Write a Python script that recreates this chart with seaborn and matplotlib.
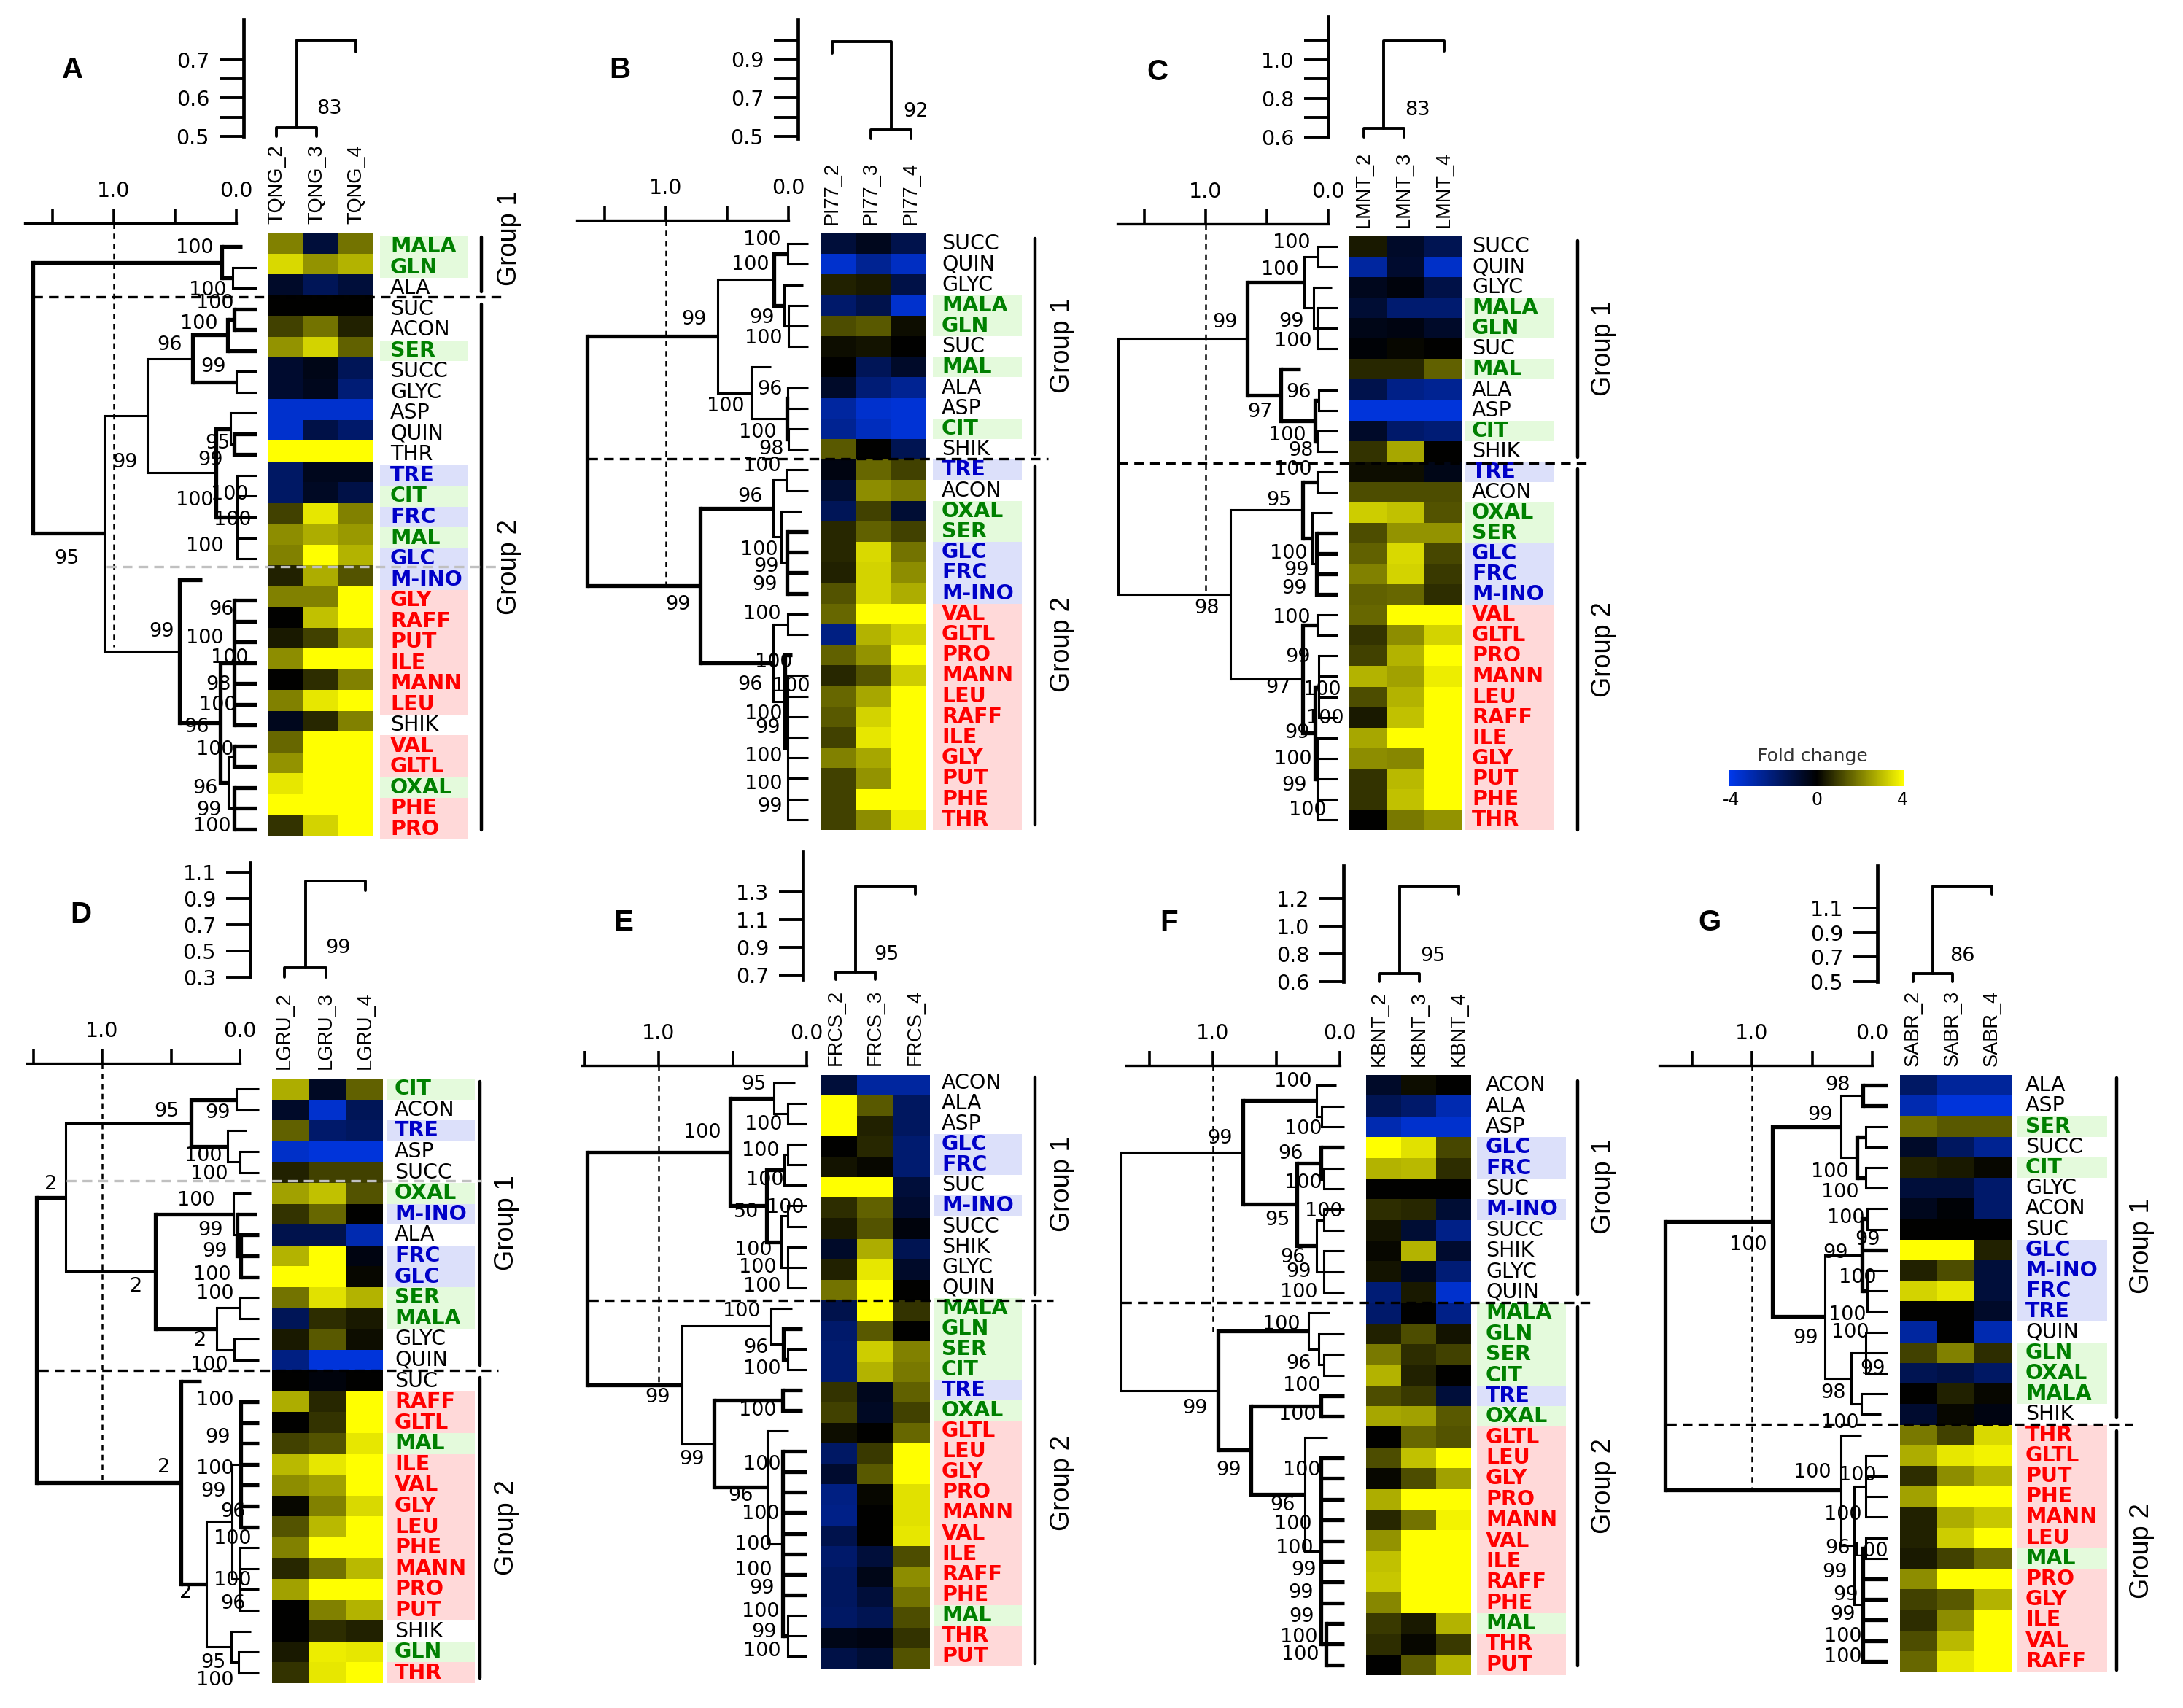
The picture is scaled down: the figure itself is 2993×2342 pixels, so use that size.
import matplotlib
matplotlib.use("Agg")
import matplotlib.pyplot as plt
from matplotlib.colors import LinearSegmentedColormap
import pandas as pd
import seaborn as sns

sns.set_theme(style="white")
plt.rcParams['font.family'] = ['DejaVu Sans']
plt.rcParams.update({'text.color': 'black', 'xtick.color': 'black', 'ytick.color': 'black', 'axes.labelcolor': 'black'})

W, H = 2993, 2342
DPI = 100
PT = 72.0 / DPI  # one pixel in points

# metabolite classes (label colour / background)
GREEN = ['MALA', 'GLN', 'SER', 'MAL', 'CIT', 'OXAL']
BLUE = ['TRE', 'FRC', 'GLC', 'M-INO']
RED = ['GLY', 'RAFF', 'PUT', 'ILE', 'MANN', 'LEU', 'VAL', 'GLTL', 'PHE', 'PRO', 'THR']

##################################################
# A
A_name = 'TQNG'
A_rows = ['MALA', 'GLN', 'ALA', 'SUC', 'ACON', 'SER', 'SUCC', 'GLYC', 'ASP', 'QUIN', 'THR', 'TRE', 'CIT', 'FRC', 'MAL',
          'GLC', 'M-INO', 'GLY', 'RAFF', 'PUT', 'ILE', 'MANN', 'LEU', 'SHIK', 'VAL', 'GLTL', 'OXAL', 'PHE', 'PRO']
A_col2 = [2, 3.4, -0.7, 0, 1, 2.3, -0.8, -0.8, -3.5, -3.5, 4, -1.7, -1.7, 1, 2.2, 2, 0.5, 2, 0, 0.4, 2.2, 0, 2, -0.5, 1.6, 2.3, 3.6, 4, 0.8]
A_col3 = [-1, 2.3, -1.5, 0, 1.8, 3.3, -0.4, -0.5, -3.5, -1.2, 4, -0.5, -0.6, 3.6, 2.7, 4, 2.7, 2, 3, 1, 4, 0.7, 3.6, 0.6, 4, 4, 4, 4, 3.3]
A_col4 = [1.8, 2.8, -1, 0, 0.5, 1.5, -1.5, -2, -3.5, -1.8, 4, -0.5, -1.2, 2, 2.4, 2.8, 1.3, 4, 4, 2.5, 4, 2, 4, 2, 4, 4, 4, 4, 4]
A_tree = (1.66,
          (.12, [0, -.05], (.03, 1, 2)),
          (1.08,
           (.727,
            (.357, (.07, (.015, 3, 4), 5), (0.0, 6, 7)),
            (.169, (.05, 8, (.015, 9, 10)), (-.008, 11, 12, 13, 14, 15))),
           (.462, [16, .282],
            (.13, (.015, 17, 18, 19, 20, 21, 22, 23),
             (.064, (.015, 24, 25), (.015, 26, 27, 28))))))
A_thick = [1.66, .12, .462, .13, .169, .357, .07, .015]
A_heights = [.522, .75, .72]
A_support = '83'
A_boot = [('100', 292, 340), ('100', 311, 398), ('100', 320, 416), ('100', 299, 444), ('96', 250, 473), ('99', 310, 503),
          ('95', 316, 608), ('99', 189, 634), ('99', 306, 631), ('100', 340, 678), ('100', 292, 686), ('100', 344, 713),
          ('100', 306, 749), ('95', 109, 766), ('96', 321, 836), ('99', 239, 866), ('100', 306, 875), ('100', 340, 902),
          ('98', 317, 939), ('100', 325, 967), ('96', 287, 997), ('100', 321, 1028), ('96', 299, 1081), ('99', 304, 1111),
          ('100', 316, 1133)]

# B
B_name = 'PI77'
B_rows = ['SUCC', 'QUIN', 'GLYC', 'MALA', 'GLN', 'SUC', 'MAL', 'ALA', 'ASP', 'CIT', 'SHIK', 'TRE', 'ACON', 'OXAL', 'SER',
          'GLC', 'FRC', 'M-INO', 'VAL', 'GLTL', 'PRO', 'MANN', 'LEU', 'RAFF', 'ILE', 'GLY', 'PUT', 'PHE', 'THR']
B_col2 = [-1, -3.5, 0.5, -1.8, 1.2, 0.2, 0, -0.7, -2.7, -2.5, 1.4, -0.3, -0.9, -1.5, 0.6, 0.6, 0.5, 1.3, 1.6, -2.2, 1.5, 0.6, 1.6, 1.4, 1, 2, 1, 1, 1]
B_col3 = [-0.5, -2.5, 0.4, -1.3, 1.4, 0.3, -1.5, -2, -3.5, -3.2, 0, 1.6, 2.2, 1, 1.5, 3.4, 3.3, 3.3, 4, 2.8, 2.3, 1.3, 2.6, 3.3, 3.6, 2.6, 2.3, 4, 2.2]
B_col4 = [-1.3, -3.3, -1.2, -3.5, 0.2, 0, -0.7, -2.5, -3.6, -3.6, -1.4, 1, 1.9, -0.9, 1, 1.8, 2.2, 2.7, 4, 3.3, 4, 3.2, 4, 4, 4, 4, 4, 4, 3.7]
B_tree = (1.644,
          (.575,
           (.12, (.005, 0, 1), (.034, [2, -.12], (0.0, 3, 4, 5))),
           (.305, [6, .14], (.01, (.005, 7, 8), (0.0, 9, 10)))),
          (.718,
           (.125, (.02, 11, 12), (.057, [13, -.108], (.01, 14, 15, 16, 17))),
           (.125, (.005, 18, 19), (.03, [20, -.03], (.005, 21, 22, 23, 24, 25, 26, 27, 28)))))
B_thick = [1.644, .718, .03, .01, .12]
B_heights = [.536, .99, .93]
B_support = '92'
B_boot = [('100', 1071, 329), ('100', 1054, 363), ('99', 969, 438), ('99', 1062, 436), ('100', 1073, 464), ('96', 1073, 534),
          ('100', 1021, 557), ('100', 1065, 593), ('98', 1075, 616), ('100', 1071, 639), ('96', 1046, 681), ('100', 1066, 754),
          ('99', 1068, 777), ('99', 1066, 802), ('99', 947, 829), ('100', 1070, 842), ('100', 1087, 908), ('96', 1046, 939),
          ('100', 1111, 941), ('100', 1073, 979), ('99', 1070, 998), ('100', 1073, 1037), ('100', 1073, 1075), ('99', 1073, 1106)]

# C
C_name = 'LMNT'
C_rows = B_rows
C_col2 = [0.4, -2.7, -0.5, -0.9, -0.4, -0.1, 0.6, -1.3, -3.7, -0.7, 0.8, 0.2, 1.2, 3.2, 1.2, 1.5, 2, 1.5, 1.6, 0.8, 1, 2.8, 1.2, 0.4, 2.6, 2.2, 0.8, 0.8, 0]
C_col3 = [-0.7, -0.8, -0.2, -1.9, -0.3, 0.1, 0.6, -2.3, -3.7, -1.8, 2.6, 0.2, 1.2, 3, 2.3, 3.4, 3.3, 1.6, 4, 2.2, 2.8, 2.5, 2.8, 3, 4, 2.1, 2.9, 3, 1.9]
C_col4 = [-1.4, -3.4, -1.2, -1.9, -0.7, 0, 1.5, -2.5, -3.7, -2, 0, -0.4, 1.2, 1.3, 2.3, 1.1, 0.9, 0.7, 4, 3.3, 4, 3.7, 4, 4, 4, 4, 4, 4, 2.3]
C_tree = (1.716,
          (.662,
           (.197, (.082, 0, 1), (.121, [2, -.03], (.09, 3, 4, 5))),
           (.386, [6, .228], (.106, (.076, 7, 8), (.09, 9, 10)))),
          (.796,
           (.206, (.09, 11, 12), (.128, [13, -.03], (.097, 14, 15, 16, 17))),
           (.206, (.09, 18, 19), (.106, (.076, 20, 21, 22, 23), (.09, 24, 25, 26, 27, 28)))))
C_thick = [.662, .386, .206, .097, .106]
C_heights = [.645, 1.096, 1.044]
C_support = '83'
C_boot = [('100', 1797, 333), ('100', 1781, 370), ('99', 1697, 442), ('99', 1788, 441), ('100', 1798, 468), ('96', 1798, 538),
          ('97', 1745, 565), ('100', 1791, 597), ('98', 1801, 618), ('100', 1798, 644), ('95', 1771, 686), ('100', 1793, 759),
          ('99', 1795, 782), ('99', 1792, 807), ('98', 1672, 834), ('100', 1797, 847), ('99', 1797, 901), ('97', 1770, 943),
          ('100', 1839, 946), ('100', 1843, 985), ('99', 1796, 1005), ('100', 1798, 1041), ('99', 1792, 1077), ('100', 1819, 1111)]

# D
D_name = 'LGRU'
D_rows = ['CIT', 'ACON', 'TRE', 'ASP', 'SUCC', 'OXAL', 'M-INO', 'ALA', 'FRC', 'GLC', 'SER', 'MALA', 'GLYC', 'QUIN', 'SUC',
          'RAFF', 'GLTL', 'MAL', 'ILE', 'VAL', 'GLY', 'LEU', 'PHE', 'MANN', 'PRO', 'PUT', 'SHIK', 'GLN', 'THR']
D_col2 = [2.7, -0.7, 1.5, -3.4, 0.5, 2.5, 0.8, -1.3, 2.8, 4, 1.8, -1.5, 0.4, -2.2, 0, 2.7, 0, 1, 2.9, 2.2, 0.1, 1.3, 2, 0.6, 2.5, 0, 0, 0.4, 0.8]
D_col3 = [-0.6, -3.5, -1.8, -3.7, 1, 3, 1.6, -1.3, 4, 4, 3.5, 0.7, 1.4, -3.7, -0.2, 0.6, 0.8, 1.3, 3.6, 2.5, 2, 2.9, 4, 1.8, 4, 2, 0.7, 3.7, 3.6]
D_col4 = [1.5, -1.5, -1.6, -3.7, 1, 1.3, 0, -3, -0.3, 0.1, 2.8, 0.4, 0.2, -3.7, 0, 4, 4, 3.6, 4, 4, 3.4, 4, 4, 2.9, 4, 2.8, 0.5, 3.6, 4]
D_tree = (1.476,
          (1.266,
           (.354, (.025, 0, 1), (.09, [2, -.05], (0.0, 3, 4))),
           (.615,
            (.05, [5, -.08], (.02, [6, -.12], (-.005, 7, 8, 9))),
            (.167, (0.0, 10, 11), (.04, 12, 13)))),
          (.43, [14, .278],
           (.243,
            (.058, (-.005, 15, 16, 17, 18, 19, 20, 21), (0.0, 22, 23, 24, 25)),
            (.066, [26, -.08], (.008, 27, 28)))))
D_thick = [1.476, .615, -.005, .43, .354, .02]
D_heights = [.37, 1.036, .963]
D_support = '99'
D_boot = [('95', 246, 1524), ('99', 316, 1526), ('100', 304, 1585), ('100', 312, 1610), ('2', 78, 1624), ('100', 294, 1646),
          ('99', 306, 1687), ('99', 312, 1716), ('2', 195, 1764), ('100', 316, 1748), ('100', 320, 1774), ('2', 283, 1838),
          ('100', 312, 1872), ('100', 321, 1920), ('99', 316, 1971), ('2', 233, 2012), ('100', 320, 2014), ('99', 310, 2045),
          ('96', 337, 2073), ('100', 344, 2110), ('100', 344, 2167), ('2', 263, 2184), ('96', 337, 2199), ('95', 310, 2280),
          ('100', 321, 2304)]

# E
E_name = 'FRCS'
E_rows = ['ACON', 'ALA', 'ASP', 'GLC', 'FRC', 'SUC', 'M-INO', 'SUCC', 'SHIK', 'GLYC', 'QUIN', 'MALA', 'GLN', 'SER', 'CIT',
          'TRE', 'OXAL', 'GLTL', 'LEU', 'GLY', 'PRO', 'MANN', 'VAL', 'ILE', 'RAFF', 'PHE', 'MAL', 'THR', 'PUT']
E_col2 = [-1, 4, 4, 0, 0.3, 4, 0.7, 0.4, -0.7, 0.5, 1.8, -1.3, -1.8, -1.9, -1.9, 0.8, 1, 0.2, -1.7, -0.8, -2.2, -2.3, -1.3, -1.8, -1.6, -1.6, -1.7, -0.4, -1.2]
E_col3 = [-2.7, 1.4, 0.5, 0.6, 0.1, 4, 1.5, 1.3, 2.7, 3.6, 4, 4, 1.4, 3.2, 2.8, -0.5, -0.6, 0, 0.9, 1.4, 0.1, 0, 0, -1, -0.4, -1, -1.4, -0.3, -0.9]
E_col4 = [-2.7, -1.6, -1.6, -1.9, -1.9, -1, -0.8, -0.2, -1.4, -0.7, 0, 0.8, 0, 2, 1.9, 1.5, 1, 1.6, 4, 4, 3.5, 3.5, 3.6, 1.2, 2.2, 1.8, 1.2, 0.8, 1.3]
E_tree = (1.482,
          (.518,
           (.224, [0, .08], (.13, 1, 2)),
           (.27,
            (.153, (.13, 3, 4), 5),
            (.172, (.13, 6, 7), (.13, 8, 9, 10)))),
          (.842,
           (.24, [11, .1], (.158, [12, .03], (.13, 13, 14))),
           (.624,
            (.165, [15, .03], [16, .03]),
            (.266, [17, .125],
             (.165, 18, 19, 20, 21, 22, 23, 24, 25, (.13, 26, 27, 28))))))
E_thick = [1.482, .518, .624, .27, .158, .165]
E_heights = [.724, 1.345, 1.285]
E_support = '95'
E_boot = [('95', 1051, 1487), ('100', 988, 1553), ('100', 1073, 1542), ('100', 1068, 1578), ('100', 1075, 1618), ('100', 1102, 1656),
          ('50', 1040, 1662), ('100', 1059, 1714), ('100', 1065, 1738), ('100', 1070, 1764), ('100', 1042, 1798), ('96', 1054, 1848),
          ('100', 1070, 1877), ('99', 919, 1916), ('100', 1065, 1934), ('99', 966, 2001), ('100', 1071, 2008), ('96', 1033, 2051),
          ('100', 1068, 2076), ('100', 1059, 2118), ('100', 1059, 2153), ('99', 1062, 2178), ('100', 1068, 2210), ('99', 1065, 2238),
          ('100', 1070, 2264)]

# F
F_name = 'KBNT'
F_rows = E_rows
F_col2 = [-0.7, -1.4, -3, 4, 2.8, 0, 0.7, 0.3, 0.1, 0.3, -2, -1.8, 0.5, 1.9, 2.8, 1.2, 2.6, 0, 1.2, 0.1, 2.7, 0.6, 2.3, 3, 3.1, 2.1, 0.9, 0.7, 0]
F_col3 = [0.2, -1.8, -3.5, 3.5, 2.9, 0, 0.6, -0.9, 2.8, -0.5, 0.4, 0, 1.2, 0.7, 0.5, 0.9, 2.5, 1.6, 3, 1.2, 4, 1.8, 4, 4, 4, 4, 0.4, 0.1, 1.4]
F_col4 = [0, -3, -3.5, 1.1, 0.7, 0, -0.9, -2.3, -0.8, -2, -3.5, -2.3, 0.3, 1, 0, -1, 1.4, 1.3, 4, 2.5, 4, 3.8, 4, 4, 4, 4, 2.8, 0.9, 2.8]
F_tree = (1.724,
          (.762,
           (.184, [0, .03], (.146, 1, 2)),
           (.338,
            (.151, 3, (.124, 4, 5)),
            (.184, (.124, 6, 7), (.124, 8, 9, 10)))),
          (.962,
           (.247, [11, .08], (.165, 12, (.124, 13, 14))),
           (.70,
            (.151, 15, 16),
            (.275, [17, .1],
             (.151, 18, 19, 20, 21, 22, 23, 24, 25, (.11, 26, 27, 28))))))
F_thick = [.762, .962, .70, .151, .11, .338]
F_heights = [.658, 1.289, 1.232]
F_support = '95'
F_boot = [('100', 1798, 1483), ('99', 1690, 1561), ('100', 1813, 1548), ('96', 1787, 1582), ('100', 1813, 1622), ('100', 1841, 1661),
          ('95', 1769, 1673), ('96', 1790, 1724), ('99', 1798, 1744), ('100', 1806, 1772), ('100', 1782, 1816), ('96', 1798, 1870),
          ('100', 1810, 1900), ('99', 1656, 1931), ('100', 1805, 1940), ('99', 1702, 2016), ('100', 1811, 2016), ('96', 1776, 2064),
          ('100', 1798, 2090), ('100', 1800, 2123), ('99', 1805, 2153), ('99', 1801, 2184), ('99', 1802, 2217), ('100', 1806, 2245),
          ('100', 1809, 2269)]

# G
G_name = 'SABR'
G_rows = ['ALA', 'ASP', 'SER', 'SUCC', 'CIT', 'GLYC', 'ACON', 'SUC', 'GLC', 'M-INO', 'FRC', 'TRE', 'QUIN', 'GLN', 'OXAL',
          'MALA', 'SHIK', 'THR', 'GLTL', 'PUT', 'PHE', 'MANN', 'LEU', 'MAL', 'PRO', 'GLY', 'ILE', 'VAL', 'RAFF']
G_col2 = [-1.7, -3, 1.7, -0.7, 0.5, -1, -0.5, 0, 4, 0.5, 3.3, 0, -2.7, 1, -1.4, 0, -0.8, 1.9, 2.7, 0.7, 2.5, 0.5, 0.5, 0.4, 2.2, 1, 0.7, 1.2, 1.6]
G_col3 = [-2.6, -3.7, 1.4, -1.6, 0.4, -1, -0.1, 0, 4, 1.2, 3.6, 0, 0, 2, -1.2, 0.5, 0.1, 1, 3.6, 2.2, 4, 2.7, 3.2, 1, 4, 1.4, 2.2, 2.9, 3.6]
G_col4 = [-2.6, -3.7, 1.4, -2.5, 0.1, -1.8, -1.8, 0, 0.5, -1, -1, -0.7, -3, 0.7, -1.7, 0.1, -0.3, 3.4, 3.8, 2.8, 4, 3.1, 4, 1.7, 4, 2.8, 4, 4, 4]
G_tree = (1.72,
          (.83,
           (.258, (.08, 0, 1), (.129, (.057, 2, 3), (.057, 4, 5))),
           (.395,
            (.086, (.043, 6, 7), 8, (.043, 9, 10, 11)),
            (.178, (.057, 12, 13, 14), (.092, 15, [16, -.07])))),
          (.258, [17, .092],
           (.149, (.057, 18, 19, 20, 21), (.08, (.057, 22, 23), 24, 25, 26, 27, 28))))
G_thick = [1.72, .83, .08, .086, .129]
G_heights = [.565, 1.28, 1.214]
G_support = '86'
G_boot = [('98', 2537, 1488), ('99', 2513, 1529), ('100', 2534, 1607), ('100', 2549, 1635), ('100', 2422, 1707), ('100', 2557, 1670),
          ('99', 2578, 1700), ('99', 2534, 1718), ('100', 2573, 1752), ('100', 2558, 1803), ('100', 2563, 1827), ('99', 2493, 1835),
          ('99', 2585, 1877), ('98', 2531, 1910), ('100', 2549, 1951), ('100', 2510, 2019), ('100', 2572, 2023), ('100', 2552, 2077),
          ('96', 2537, 2123), ('100', 2589, 2127), ('99', 2533, 2156), ('99', 2548, 2187), ('99', 2544, 2214), ('100', 2552, 2244),
          ('100', 2552, 2272)]

##################################################
# layout, all in pixels of the final image
LAYOUT = {
    'A': dict(heat=(367, 511, 319, 1146), shift=5, scale=dict(x0=324, unit=168, y=306, left=34, tip=-.165, drop=887),
              lab=(521, 642, 535), top=dict(x=334, y0=27, y1=187, v=.5, unit=527, major=[.5, .6, .7], minor=[.55, .65],
                                            legs=[379, 434, 488], pair=(0, 1), sup=(451, 149)),
              bar=660, g1=(325, 400, 327), g2=(417, 1138, 778), gx=698, dash=(407, 45, 687), grey=(777, 146, 690), letter=(100, 96)),
    'B': dict(heat=(1125, 1269, 320, 1138), shift=0, scale=dict(x0=1081, unit=168, y=302, left=791, tip=-.16, drop=807),
              lab=(1279, 1401, 1291), top=dict(x=1094, y0=27, y1=190, v=.49, unit=265, major=[.5, .7, .9], minor=[.6, .8, 1.0],
                                               legs=[1141, 1194, 1249], pair=(1, 2), sup=(1256, 153)),
              bar=1419, g1=(327, 623, 474), g2=(639, 1131, 884), gx=1456, dash=(629, 806, 1437), grey=None, letter=(850, 96)),
    'C': dict(heat=(1850, 2005, 324, 1138), shift=0, scale=dict(x0=1821, unit=168, y=307, left=1532, tip=-.076, drop=811),
              lab=(2008, 2131, 2018), top=dict(x=1821, y0=23, y1=188, v=.6, unit=266, major=[.6, .8, 1.0], minor=[.7, .9, 1.1],
                                               legs=[1870, 1925, 1980], pair=(0, 1), sup=(1943, 151)),
              bar=2163, g1=(330, 627, 478), g2=(643, 1138, 891), gx=2198, dash=(635, 1533, 2176), grey=None, letter=(1587, 99)),
    'D': dict(heat=(373, 525, 1479, 2308), shift=0, scale=dict(x0=329, unit=189, y=1458, left=37, tip=-.137, drop=2029),
              lab=(530, 651, 541), top=dict(x=343, y0=1183, y1=1340, v=.3, unit=180, major=[.3, .5, .7, .9, 1.1], minor=[],
                                            legs=[390, 447, 501], pair=(0, 1), sup=(464, 1300)),
              bar=658, g1=(1483, 1872, 1677), g2=(1889, 2301, 2095), gx=694, dash=(1879, 53, 683), grey=(1619, 91, 659), letter=(111, 1254)),
    'E': dict(heat=(1125, 1275, 1474, 2288), shift=-3, scale=dict(x0=1106, unit=203, y=1461, left=798, tip=0.0, drop=1896),
              lab=(1280, 1401, 1291), top=dict(x=1101, y0=1168, y1=1343, v=.671, unit=190, major=[.7, .9, 1.1, 1.3], minor=[],
                                               legs=[1146, 1200, 1255], pair=(0, 1), sup=(1215, 1309)),
              bar=1419, g1=(1477, 1775, 1624), g2=(1790, 2281, 2034), gx=1456, dash=(1783, 807, 1444), grey=None, letter=(855, 1265)),
    'F': dict(heat=(1873, 2017, 1474, 2297), shift=0, scale=dict(x0=1837, unit=174, y=1461, left=1544, tip=-.036, drop=1831),
              lab=(2025, 2147, 2037), top=dict(x=1842, y0=1187, y1=1346, v=.6, unit=190, major=[.6, .8, 1.0, 1.2], minor=[],
                                               legs=[1891, 1946, 2000], pair=(0, 1), sup=(1964, 1311)),
              bar=2163, g1=(1482, 1775, 1627), g2=(1792, 2284, 2038), gx=2199, dash=(1786, 1538, 2184), grey=None, letter=(1603, 1265)),
    'G': dict(heat=(2605, 2758, 1474, 2292), shift=0, scale=dict(x0=2567, unit=165, y=1461, left=2275, tip=-.126, drop=2039),
              lab=(2766, 2889, 2777), top=dict(x=2574, y0=1187, y1=1346, v=.5, unit=168, major=[.5, .7, .9, 1.1], minor=[],
                                               legs=[2623, 2677, 2731], pair=(0, 1), sup=(2690, 1311)),
              bar=2902, g1=(1478, 1944, 1709), g2=(1962, 2290, 2127), gx=2937, dash=(1953, 2285, 2924), grey=None, letter=(2344, 1265)),
}
PANELS = [('A', A_name, A_rows, A_col2, A_col3, A_col4, A_tree, A_thick, A_heights, A_support, A_boot),
          ('B', B_name, B_rows, B_col2, B_col3, B_col4, B_tree, B_thick, B_heights, B_support, B_boot),
          ('C', C_name, C_rows, C_col2, C_col3, C_col4, C_tree, C_thick, C_heights, C_support, C_boot),
          ('D', D_name, D_rows, D_col2, D_col3, D_col4, D_tree, D_thick, D_heights, D_support, D_boot),
          ('E', E_name, E_rows, E_col2, E_col3, E_col4, E_tree, E_thick, E_heights, E_support, E_boot),
          ('F', F_name, F_rows, F_col2, F_col3, F_col4, F_tree, F_thick, F_heights, F_support, F_boot),
          ('G', G_name, G_rows, G_col2, G_col3, G_col4, G_tree, G_thick, G_heights, G_support, G_boot)]

cmap = LinearSegmentedColormap.from_list('fold', [(0, .22, .92), (0, 0, 0), (1, 1, 0)])
LW = 2.2
LW_THICK = 3.8
NUM_SIZE = 19.5
LABEL_SIZE = 20.5

fig = plt.figure(figsize=(W / DPI, H / DPI), dpi=DPI)


def add_ax(x0, x1, y0, y1):
    return fig.add_axes([x0 / W, 1 - y1 / H, (x1 - x0) / W, (y1 - y0) / H])


def draw_node(ax, node, tip, thick):
    # a leaf is a row index, or [row, own tip]; a node is (height, kids...)
    if isinstance(node, int):
        return node + .5, tip
    if isinstance(node, list):
        return node[0] + .5, node[1]
    h = node[0]
    lw = LW_THICK if h in thick else LW
    ys = []
    for kid in node[1:]:
        y, hk = draw_node(ax, kid, tip, thick)
        ax.plot([h, hk], [y, y], color='black', lw=lw, clip_on=False, solid_capstyle='butt')
        ys.append(y)
    ax.plot([h, h], [min(ys), max(ys)], color='black', lw=lw, clip_on=False, solid_capstyle='projecting')
    return (min(ys) + max(ys)) / 2, h


# overlay in pixels for everything that is not tied to a scale
over = fig.add_axes([0, 0, 1, 1], zorder=10)
over.set_xlim(0, W)
over.set_ylim(H, 0)
over.axis('off')

cax = add_ax(2371, 2611, 1056, 1078)

for i, (key, name, rows, c2, c3, c4, tree, thick, heights, support, boot) in enumerate(PANELS):
    p = LAYOUT[key]
    x0, x1, y0, y1 = p['heat']
    n = len(rows)
    row_h = (y1 - y0) / n
    df = pd.DataFrame({name + '_2': c2, name + '_3': c3, name + '_4': c4}, index=rows)

    # heat map
    ax = add_ax(x0, x1, y0, y1)
    sns.heatmap(df, ax=ax, cmap=cmap, vmin=-4, vmax=4, yticklabels=False, cbar=(i == 0),
                cbar_ax=cax if i == 0 else None, cbar_kws={'orientation': 'horizontal'})
    top = p['top']
    col_w = (x1 - x0) / 3.0
    leg_x = [(v - x0) / col_w for v in top['legs']]
    ax.xaxis.tick_top()
    ax.set_xticks(leg_x)
    ax.set_xticklabels(df.columns, rotation=90, family='Liberation Sans', fontsize=19.5)
    ax.tick_params(axis='x', length=0, pad=9)
    ax.set_xlabel('')
    ax.set_ylabel('')

    # row labels with class background
    sh = p['shift']
    b0, b1, tx = p['lab']
    lab = add_ax(b0, b1, y0 + sh, y1 + sh)
    lab.set_xlim(b0, b1)
    lab.set_ylim(n, 0)
    lab.axis('off')
    for r, m in enumerate(rows):
        col, bg = 'black', None
        if m in GREEN:
            col, bg = '#008000', '#e4fadc'
        elif m in BLUE:
            col, bg = '#0000c8', '#dce0fa'
        elif m in RED:
            col, bg = '#ff0000', '#ffd9d9'
        if key == 'A' and m == 'THR':
            col, bg = 'black', None
        if bg:
            lab.barh(r + .5, b1 - b0, left=b0, height=1, color=bg, linewidth=0)
        lab.text(tx, r + .5, m, color=col, fontsize=LABEL_SIZE, va='center', ha='left',
                 fontweight='bold' if bg else 'normal')

    # metabolite dendrogram and its distance scale
    s = p['scale']
    tip_px = s['x0'] - s['tip'] * s['unit']
    left_px = s['left'] - 15
    tr = add_ax(left_px, tip_px, y0 + sh, y1 + sh)
    tr.set_xlim((s['x0'] - left_px) / s['unit'], s['tip'])
    tr.set_ylim(n, 0)
    tr.patch.set_alpha(0)
    draw_node(tr, tree, s['tip'], thick)
    for side in ['left', 'right', 'bottom']:
        tr.spines[side].set_visible(False)
    tr.spines['top'].set_position(('outward', (y0 + sh - s['y']) * PT))
    tr.spines['top'].set_linewidth(2.4)
    tr.spines['top'].set_color('black')
    tr.spines['top'].set_bounds(0, (s['x0'] - s['left']) / s['unit'])
    tr.xaxis.tick_top()
    tr.set_xticks([0, .5, 1.0, 1.5])
    tr.set_xticklabels(['0.0', '', '1.0', ''], fontsize=NUM_SIZE + 1)
    tr.set_yticks([])
    tr.tick_params(axis='x', length=20 * PT, width=2.6, pad=7, color='black', direction='out', bottom=False, top=True)
    tr.plot([1, 1], [(s['y'] - y0 - sh) / row_h, (s['drop'] - y0 - sh) / row_h], color='black', lw=1.8,
            ls=(0, (3, 2.5)), clip_on=False)

    # sample dendrogram and its height scale
    low = top['v']
    hi = low + (top['y1'] - top['y0']) / top['unit']
    tc = add_ax(x0, x1, top['y0'], top['y1'])
    tc.set_xlim(0, 3)
    tc.set_ylim(low, hi)
    tc.patch.set_alpha(0)
    pair_h, root_h, end_h = heights
    a, b = top['pair']
    other = 3 - a - b
    mid = (leg_x[a] + leg_x[b]) / 2
    tc.plot([leg_x[a], leg_x[a], leg_x[b], leg_x[b]], [low, pair_h, pair_h, low], color='black', lw=LW + .6, clip_on=False)
    tc.plot([mid, mid, leg_x[other], leg_x[other]], [pair_h, root_h, root_h, end_h], color='black', lw=LW + .6, clip_on=False)
    for side in ['top', 'right', 'bottom']:
        tc.spines[side].set_visible(False)
    tc.spines['left'].set_position(('outward', (x0 - top['x']) * PT))
    tc.spines['left'].set_linewidth(3.4)
    tc.spines['left'].set_color('black')
    tc.set_yticks(top['major'])
    tc.set_yticklabels(['%.1f' % v for v in top['major']], fontsize=NUM_SIZE + 1)
    tc.set_yticks(top['minor'], minor=True)
    tc.set_xticks([])
    tc.tick_params(axis='y', which='both', length=33 * PT, width=2.8, pad=10, color='black', left=True, direction='out')

    # texts and lines placed by pixel
    over.text(top['sup'][0], top['sup'][1], support, fontsize=NUM_SIZE, ha='center', va='center')
    for txt, bx, by in boot:
        over.text(bx, by, txt, fontsize=NUM_SIZE, ha='right', va='center')
    over.plot([p['bar']] * 2, p['g1'][:2], color='black', lw=3.2)
    over.plot([p['bar']] * 2, p['g2'][:2], color='black', lw=3.2)
    over.text(p['gx'], p['g1'][2], 'Group 1', rotation=90, family='Liberation Sans', fontsize=26, ha='center', va='center')
    over.text(p['gx'], p['g2'][2], 'Group 2', rotation=90, family='Liberation Sans', fontsize=26, ha='center', va='center')
    yd, xa, xb = p['dash']
    over.plot([xa, xb], [yd, yd], color='black', lw=2.4, ls=(0, (4, 2.5)))
    if p['grey']:
        yd, xa, xb = p['grey']
        over.plot([xa, xb], [yd, yd], color='#c0c0c0', lw=2.4, ls=(0, (4, 2.5)))
    over.text(p['letter'][0], p['letter'][1], key, family='Liberation Sans', fontweight='bold', fontsize=29, ha='center', va='center')

# fold change legend
cax.set_xticks([-3.9, 0, 3.9])
cax.set_xticklabels(['-4', '0', '4'], fontsize=17)
cax.tick_params(axis='x', length=0, pad=5)
over.text(2485, 1037, 'Fold change', fontsize=18, ha='center', va='center', color='#333333')

over.set_xlim(0, W)
over.set_ylim(H, 0)

plt.savefig("out.png", dpi=DPI, facecolor='white')
